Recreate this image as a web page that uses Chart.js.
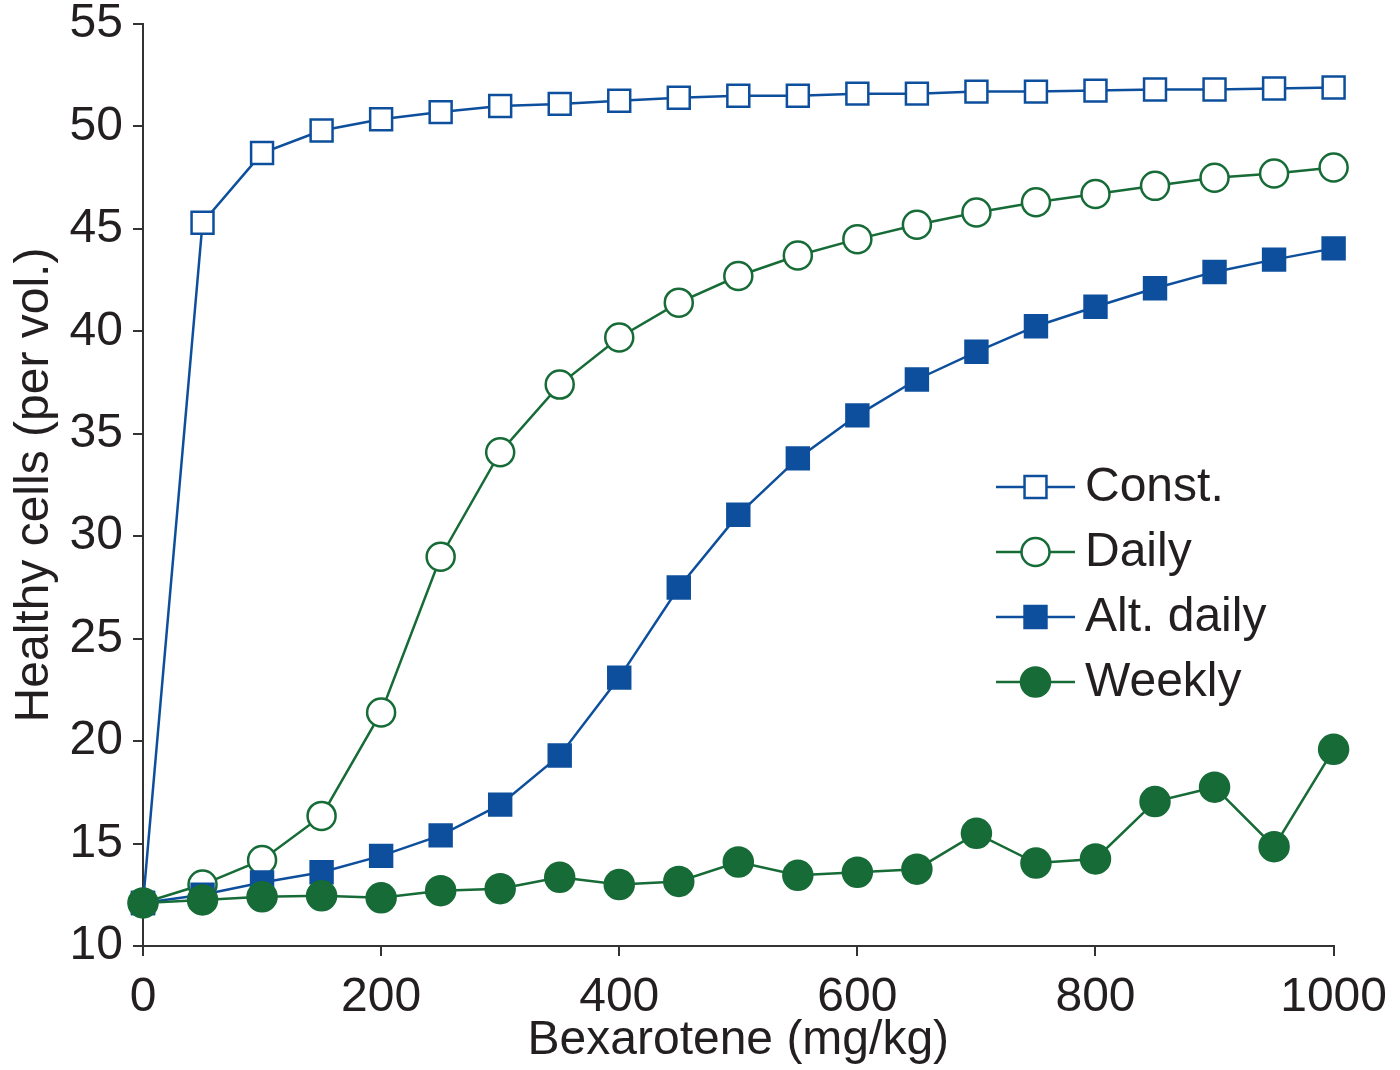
<!DOCTYPE html>
<html>
<head>
<meta charset="utf-8">
<script src="https://cdn.jsdelivr.net/npm/chart.js@4.4.1/dist/chart.umd.min.js"></script>
<style>
  html, body { margin: 0; padding: 0; background: #fff; }
  #wrap { width: 1400px; height: 1070px; }
</style>
</head>
<body>
<div id="wrap"><canvas id="c"></canvas></div>
<script>
// doses (mg/kg)
var doses = [0, 50, 100, 150, 200, 250, 300, 350, 400, 450, 500, 550, 600, 650, 700, 750, 800, 850, 900, 950, 1000];

var constVals = [12.1, 45.3, 48.7, 49.8, 50.35, 50.7, 51.0, 51.1, 51.25, 51.4, 51.5, 51.5, 51.6, 51.6, 51.7, 51.7, 51.75, 51.8, 51.8, 51.85, 51.9];
var dailyVals = [12.1, 13.0, 14.2, 16.35, 21.4, 29.0, 34.1, 37.4, 39.7, 41.4, 42.7, 43.7, 44.5, 45.2, 45.8, 46.3, 46.7, 47.1, 47.5, 47.7, 48.0];
var altVals = [12.1, 12.5, 13.1, 13.6, 14.4, 15.4, 16.9, 19.3, 23.1, 27.5, 31.05, 33.8, 35.9, 37.65, 39.0, 40.25, 41.2, 42.1, 42.9, 43.5, 44.05];
var weeklyVals = [12.1, 12.25, 12.4, 12.45, 12.35, 12.7, 12.8, 13.35, 13.0, 13.15, 14.1, 13.45, 13.6, 13.75, 15.5, 14.05, 14.25, 17.05, 17.75, 14.85, 19.6];

var seriesNames = ['Const.', 'Daily', 'Alt. daily', 'Weekly'];
var xTicks = [0, 200, 400, 600, 800, 1000];
var yTicks = [10, 15, 20, 25, 30, 35, 40, 45, 50, 55];

var blue = '#0d4f9c';
var green = '#166b37';
var ink = '#231f20';
var fontName = '"Liberation Sans", Arial, Helvetica, sans-serif';

function pts(vals) {
	return doses.map(function (d, i) { return { x: d, y: vals[i] }; });
}

function mkSet(label, vals, color, style, filled, r, order) {
	return {
		label: label,
		data: pts(vals),
		borderColor: color,
		backgroundColor: filled ? color : '#ffffff',
		pointBorderColor: color,
		pointBackgroundColor: filled ? color : '#ffffff',
		pointStyle: style,
		pointRadius: r,
		pointBorderWidth: 2.5,
		borderWidth: 2.5,
		tension: 0,
		fill: false,
		clip: false,
		order: order
	};
}

var datasets = [
	mkSet(seriesNames[0], constVals, blue, 'rect', false, 15.5, 4),
	mkSet(seriesNames[1], dailyVals, green, 'circle', false, 14, 3),
	mkSet(seriesNames[2], altVals, blue, 'rect', true, 15.5, 2),
	mkSet(seriesNames[3], weeklyVals, green, 'circle', true, 14.5, 1)
];

// legend with a line through each marker, like the original
var lineLegend = {
	id: 'lineLegend',
	afterDraw: function (chart) {
		var ctx = chart.ctx;
		var area = chart.chartArea;
		var x0 = area.left + 853, x1 = area.left + 932, xt = area.left + 942;
		var y0 = area.top + 463, dy = 65;
		ctx.save();
		chart.data.datasets.forEach(function (ds, i) {
			var y = y0 + i * dy;
			var cx = (x0 + x1) / 2;
			ctx.strokeStyle = ds.borderColor;
			ctx.lineWidth = 2.5;
			ctx.beginPath();
			ctx.moveTo(x0, y);
			ctx.lineTo(x1, y);
			ctx.stroke();
			ctx.fillStyle = ds.pointBackgroundColor;
			ctx.beginPath();
			if (ds.pointStyle === 'rect') {
				var s = ds.pointRadius * Math.SQRT1_2;
				ctx.rect(cx - s, y - s, 2 * s, 2 * s);
			} else {
				ctx.arc(cx, y, ds.pointRadius, 0, Math.PI * 2);
			}
			ctx.fill();
			ctx.stroke();
			ctx.fillStyle = ink;
			ctx.font = '48px ' + fontName;
			ctx.textAlign = 'left';
			ctx.textBaseline = 'middle';
			ctx.fillText(ds.label, xt, y + 1);
		});
		ctx.restore();
	}
};

new Chart(document.getElementById('c'), {
	type: 'line',
	data: { datasets: datasets },
	options: {
		responsive: true,
		maintainAspectRatio: false,
		animation: false,
		layout: { padding: { top: 24, right: 66, left: 0, bottom: 0 } },
		plugins: {
			legend: { display: false },
			tooltip: { enabled: false }
		},
		scales: {
			x: {
				type: 'linear',
				min: 0,
				max: 1000,
				afterBuildTicks: function (axis) {
					axis.ticks = xTicks.map(function (v) { return { value: v }; });
				},
				afterFit: function (axis) { axis.height = 124; },
				border: { display: true, color: '#333', width: 2 },
				grid: { drawOnChartArea: false, drawTicks: true, tickLength: 10, color: '#333', lineWidth: 2 },
				ticks: {
					color: ink, font: { family: fontName, size: 48 }, padding: 13, maxRotation: 0,
					callback: function (v) { return String(v); }
				},
				title: { display: true, text: 'Bexarotene (mg/kg)', color: ink, font: { family: fontName, size: 48 }, padding: { top: 0, bottom: 0 } }
			},
			y: {
				type: 'linear',
				min: 10,
				max: 55,
				afterBuildTicks: function (axis) {
					axis.ticks = yTicks.map(function (v) { return { value: v }; });
				},
				afterFit: function (axis) { axis.width = 143; },
				border: { display: true, color: '#333', width: 2 },
				grid: { drawOnChartArea: false, drawTicks: true, tickLength: 10, color: '#333', lineWidth: 2 },
				ticks: { color: ink, font: { family: fontName, size: 48, lineHeight: 0.5 }, padding: 10 },
				title: { display: true, text: 'Healthy cells (per vol.)', color: ink, font: { family: fontName, size: 48 }, padding: { top: 6, bottom: 0 } }
			}
		}
	},
	plugins: [lineLegend]
});
</script>
</body>
</html>
